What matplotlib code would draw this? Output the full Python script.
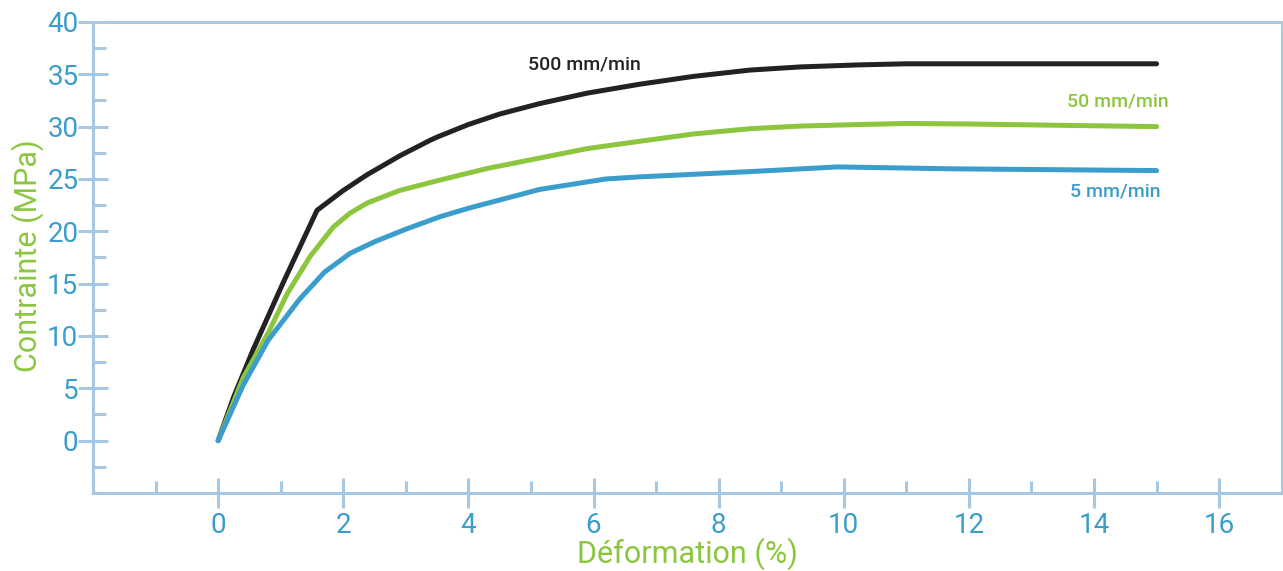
import matplotlib
matplotlib.use("Agg")
import matplotlib.pyplot as plt

# courbes contrainte / deformation pour trois vitesses de traction
x_500 = [0, 0.25, 0.56, 1.04, 1.58, 2.0, 2.38, 2.9, 3.39, 3.5, 4.0, 4.5, 5.14, 5.9, 6.74, 7.6, 8.5, 9.3, 10.26, 11.0, 15.0]
y_500 = [0, 4.2, 8.7, 15.1, 22.0, 23.9, 25.4, 27.2, 28.7, 29.0, 30.2, 31.2, 32.2, 33.2, 34.05, 34.8, 35.4, 35.7, 35.9, 36.0, 36.0]

x_50 = [0, 0.4, 0.8, 1.1, 1.47, 1.84, 2.1, 2.38, 2.9, 3.55, 4.3, 5.14, 5.9, 6.74, 7.6, 8.5, 9.3, 10.26, 11.0, 12.0, 13.5, 15.0]
y_50 = [0, 6.0, 10.3, 14.0, 17.6, 20.4, 21.7, 22.7, 23.9, 24.9, 26.0, 27.0, 27.9, 28.6, 29.3, 29.8, 30.05, 30.2, 30.3, 30.25, 30.12, 30.0]

x_5 = [0, 0.4, 0.8, 1.3, 1.7, 2.11, 2.5, 3.0, 3.55, 4.0, 5.14, 6.2, 6.74, 8.5, 9.9, 11.7, 15.0]
y_5 = [0, 5.3, 9.6, 13.5, 16.1, 17.9, 19.0, 20.2, 21.4, 22.2, 24.0, 25.0, 25.2, 25.7, 26.15, 25.97, 25.8]

BLUE = "#3a9dcc"
GREEN = "#8cc63f"
BLACK = "#222222"
SPINE = "#a8c8e2"

plt.rcParams['font.family'] = ['Roboto', 'DejaVu Sans']

fig = plt.figure(figsize=(12.83, 5.71), dpi=100)
ax = fig.add_axes([0.0725, 0.1366, 0.9265, 0.825])

for xs, ys, c in [(x_500, y_500, BLACK), (x_50, y_50, GREEN), (x_5, y_5, BLUE)]:
    ax.plot(xs, ys, color=c, lw=3.6, solid_capstyle='round', solid_joinstyle='round')

ax.text(5.85, 35.9, "500 mm/min", color=BLACK, fontsize=14, ha='center', va='center', fontweight='medium')
ax.text(15.2, 32.4, "50 mm/min", color=GREEN, fontsize=14, ha='right', va='center', fontweight='medium')
ax.text(15.06, 23.8, "5 mm/min", color=BLUE, fontsize=14, ha='right', va='center', fontweight='medium')

ax.set_xlim(-2, 17)
ax.set_ylim(-5, 40)
ax.set_xticks([0, 2, 4, 6, 8, 10, 12, 14, 16])
ax.set_xticks([-2, -1, 1, 3, 5, 7, 9, 11, 13, 15], minor=True)
ax.set_yticks([0, 5, 10, 15, 20, 25, 30, 35, 40])
ax.set_yticks([-5, -2.5, 2.5, 7.5, 12.5, 17.5, 22.5, 27.5, 32.5, 37.5], minor=True)

for s in ax.spines.values():
    s.set_color(SPINE)
    s.set_linewidth(2.2)

ax.tick_params(which='major', direction='inout', length=21, width=2.2, color=SPINE,
               labelcolor=BLUE, labelsize=20, pad=0)
ax.tick_params(which='minor', direction='in', length=9, width=2.2, color=SPINE)
ax.tick_params(axis='x', which='major', pad=3)

ax.set_xlabel("Déformation (%)", color=GREEN, fontsize=22, labelpad=-1)
ax.set_ylabel("Contrainte (MPa)", color=GREEN, fontsize=22)
ax.yaxis.set_label_coords(-0.041, 0.503)

fig.savefig("out.png", dpi=100)
